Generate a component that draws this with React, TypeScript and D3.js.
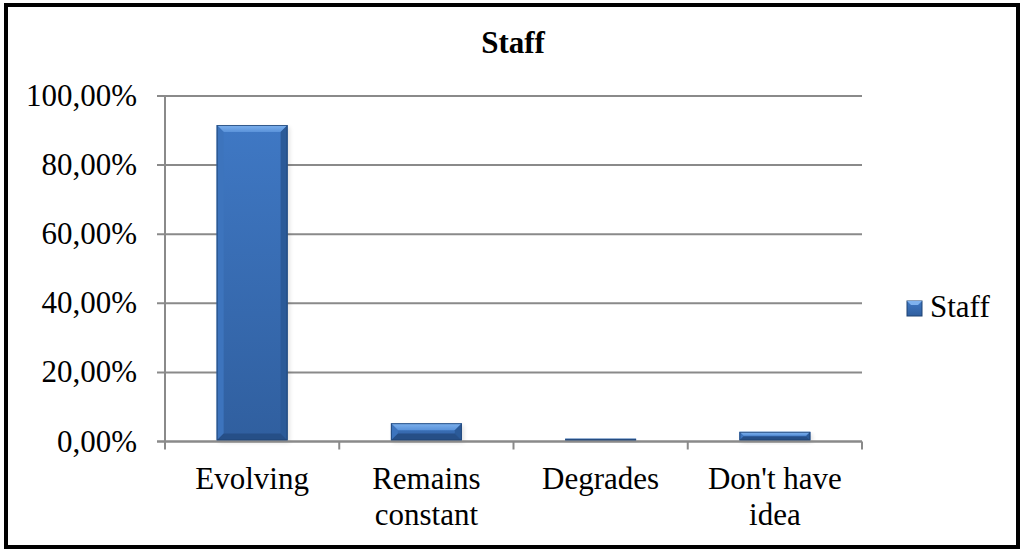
import React from "react";
import * as d3 from "d3";

// Survey answers about staff evolution (share of respondents, %)
const categories = ["Evolving", "Remains constant", "Degrades", "Don't have idea"];
const staffValues = [91.6, 5.3, 0.8, 2.8];
const yTicks = [0, 20, 40, 60, 80, 100];
const seriesName = "Staff";
const chartTitle = "Staff";

const W = 1023;
const H = 550;
const FONT = "'Liberation Serif', 'Times New Roman', serif";
const FS = 31;

const plot = { left: 165, right: 862, top: 96, bottom: 441.5 };

const fmt = (v: number) => v.toFixed(2).replace(".", ",") + "%";

function wrapLabel(text: string, maxWidth: number): string[] {
  const canvas = document.createElement("canvas");
  const ctx = canvas.getContext("2d");
  if (!ctx) return [text];
  ctx.font = `${FS}px ${FONT}`;
  const words = text.split(" ");
  const lines: string[] = [];
  let cur = "";
  for (const w of words) {
    const test = cur ? cur + " " + w : w;
    if (ctx.measureText(test).width > maxWidth && cur) {
      lines.push(cur);
      cur = w;
    } else cur = test;
  }
  if (cur) lines.push(cur);
  return lines;
}

function Bar({ x, y, w, h }: { x: number; y: number; w: number; h: number }) {
  const b = Math.min(7, h / 2.2);
  return (
    <g>
      <rect x={x + 2} y={y + 2} width={w} height={h} fill="#000" opacity={0.12} filter="url(#soft)" />
      <rect x={x} y={y} width={w} height={h} fill="url(#body)" />
      {/* top bevel */}
      <polygon points={`${x},${y} ${x + w},${y} ${x + w - b},${y + b} ${x + b},${y + b}`} fill="url(#topBevel)" />
      {/* left bevel */}
      <polygon points={`${x},${y} ${x + b},${y + b} ${x + b},${y + h - b} ${x},${y + h}`} fill="#3d74bd" />
      {/* right bevel */}
      <polygon points={`${x + w},${y} ${x + w - b},${y + b} ${x + w - b},${y + h - b} ${x + w},${y + h}`} fill="#2b5a98" />
      {/* bottom bevel */}
      <polygon points={`${x},${y + h} ${x + b},${y + h - b} ${x + w - b},${y + h - b} ${x + w},${y + h}`} fill="#264f87" />
      <rect x={x + 0.5} y={y + 0.5} width={w - 1} height={h - 1} fill="none" stroke="#1f4272" strokeWidth={1} opacity={0.8} />
    </g>
  );
}

export default function App() {
  const x = d3
    .scaleBand<string>()
    .domain(categories)
    .range([plot.left, plot.right])
    .paddingInner(0.593)
    .paddingOuter(0.2965);
  const y = d3.scaleLinear().domain([0, 100]).range([plot.bottom, plot.top]);
  const step = x.step();
  const boundaries = d3.range(categories.length + 1).map((i) => plot.left + i * step);

  return (
    <svg width={W} height={H} style={{ position: "absolute", left: 0, top: 0, background: "#fff" }}>
      <defs>
        <linearGradient id="body" x1="0" y1="0" x2="0" y2="1">
          <stop offset="0" stopColor="#3f78c4" />
          <stop offset="1" stopColor="#305f9f" />
        </linearGradient>
        <linearGradient id="topBevel" x1="0" y1="0" x2="0" y2="1">
          <stop offset="0" stopColor="#7fb2ee" />
          <stop offset="1" stopColor="#5a93da" />
        </linearGradient>
        <filter id="soft" x="-20%" y="-20%" width="140%" height="140%">
          <feGaussianBlur stdDeviation="2" />
        </filter>
      </defs>
      <rect x={0} y={0} width={W} height={H} fill="#fff" />
      {/* outer frame */}
      <rect x={6} y={5} width={1012} height={542} fill="none" stroke="#000" strokeWidth={4} />

      {/* title */}
      <text x={513} y={53} textAnchor="middle" fontFamily={FONT} fontSize={FS} fontWeight="bold">
        {chartTitle}
      </text>

      {/* gridlines and y ticks */}
      {yTicks.map((t) => (
        <g key={t}>
          <line x1={157} x2={plot.right} y1={y(t)} y2={y(t)} stroke="#8a8a8a" strokeWidth={2} />
          <text x={137} y={y(t) + 10} textAnchor="end" fontFamily={FONT} fontSize={FS} fill="#000">
            {fmt(t)}
          </text>
        </g>
      ))}
      {/* y axis */}
      <line x1={plot.left} x2={plot.left} y1={plot.top} y2={plot.bottom} stroke="#8a8a8a" strokeWidth={2} />
      {/* x axis ticks */}
      {boundaries.map((bx, i) => (
        <line key={i} x1={bx} x2={bx} y1={plot.bottom} y2={plot.bottom + 8} stroke="#8a8a8a" strokeWidth={2} />
      ))}

      {/* bars */}
      {categories.map((c, i) => {
        const bx = x(c) as number;
        const top = y(staffValues[i]);
        return <Bar key={c} x={bx} y={top} w={x.bandwidth()} h={plot.bottom - 1 - top} />;
      })}

      {/* x axis line over bar bases */}
      <line x1={plot.left - 8} x2={plot.right} y1={plot.bottom} y2={plot.bottom} stroke="#8a8a8a" strokeWidth={2} />

      {/* category labels */}
      {categories.map((c) => {
        const cx = (x(c) as number) + x.bandwidth() / 2;
        const lines = wrapLabel(c, step - 20);
        return (
          <text key={c} textAnchor="middle" fontFamily={FONT} fontSize={FS} fill="#000">
            {lines.map((ln, j) => (
              <tspan key={j} x={cx} y={489 + j * 36}>
                {ln}
              </tspan>
            ))}
          </text>
        );
      })}

      {/* legend */}
      <g>
        <rect x={907} y={301} width={15} height={15} fill="url(#body)" stroke="#1f4272" strokeWidth={1} />
        <polygon points="907,301 922,301 918,305 911,305" fill="#7fb2ee" />
        <text x={930} y={317} fontFamily={FONT} fontSize={FS} fill="#000">
          {seriesName}
        </text>
      </g>
    </svg>
  );
}
